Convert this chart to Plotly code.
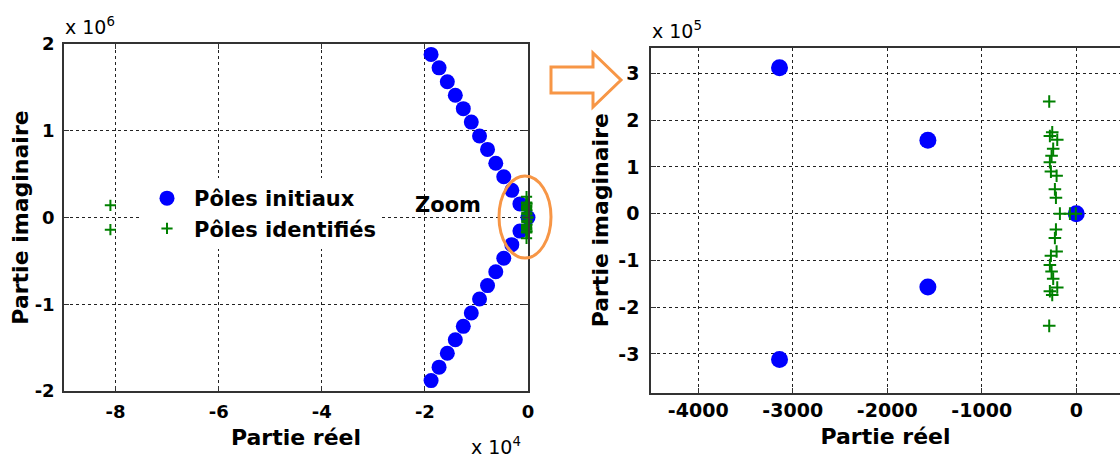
import plotly.graph_objects as go

W, H = 1120, 458

# ---------------- data ----------------
# Left panel: initial poles (blue) - origin, upper half, lower half
init_re_left = [0,
                -1570, -3140, -4700, -6250, -7850, -9400, -11000, -12550, -14100, -15650, -17250, -18800,
                -1570, -3140, -4700, -6250, -7850, -9400, -11000, -12550, -14100, -15650, -17250, -18800]
init_im_left = [0,
                157000, 313000, 470000, 625000, 785000, 940000, 1100000, 1255000, 1410000, 1565000, 1725000, 1880000,
                -157000, -313000, -470000, -625000, -785000, -940000, -1100000, -1255000, -1410000, -1565000, -1725000, -1880000]

# Identified poles (green)
ident_re = [-286, -254, -279, -201, -244, -261, -279, -268, -208, -226, -215,
            -173, -67, -5,
            -215, -226, -208, -268, -279, -261, -244, -201, -279, -254, -286]
ident_im = [240000, 174000, 166000, 158000, 139000, 124000, 110000, 90000, 81000, 52000, 34000,
            0, 0, 0,
            -34000, -52000, -81000, -90000, -110000, -124000, -139000, -158000, -166000, -174000, -240000]
far_re = [-81000, -81000]
far_im = [140000, -140000]

# Right (zoom) panel: initial poles
init_re_right = [-3140, -1570, 0, -1570, -3140]
init_im_right = [312000, 157000, 0, -157000, -312000]

# tick definitions
left_xtick_vals = [-80000, -60000, -40000, -20000, 0]
left_xtick_text = ["-8", "-6", "-4", "-2", "0"]
left_ytick_vals = [-2000000, -1000000, 0, 1000000, 2000000]
left_ytick_text = ["-2", "-1", "0", "1", "2"]
right_xtick_vals = [-4000, -3000, -2000, -1000, 0]
right_xtick_text = ["-4000", "-3000", "-2000", "-1000", "0"]
right_ytick_vals = [-300000, -200000, -100000, 0, 100000, 200000, 300000]
right_ytick_text = ["-3", "-2", "-1", "0", "1", "2", "3"]

names = ["Pôles initiaux", "Pôles identifiés"]

# ---------------- styling ----------------
BLUE = "#0000FF"
GREEN = "#008000"
ORANGE = "#F79646"
FONT = "DejaVu Sans"

def px(x):
    return x / W

def py(y):
    return 1 - y / H

fig = go.Figure()

fig.add_trace(go.Scatter(x=init_re_left, y=init_im_left, mode="markers", name=names[0],
                         marker=dict(symbol="circle", size=15, color=BLUE, line=dict(width=0)),
                         cliponaxis=False, xaxis="x", yaxis="y"))
fig.add_trace(go.Scatter(x=ident_re + far_re, y=ident_im + far_im, mode="markers", name=names[1],
                         marker=dict(symbol="cross-thin", size=8, color=GREEN, line=dict(width=2, color=GREEN)),
                         cliponaxis=False, xaxis="x", yaxis="y"))
fig.add_trace(go.Scatter(x=init_re_right, y=init_im_right, mode="markers", showlegend=False,
                         marker=dict(symbol="circle", size=17, color=BLUE, line=dict(width=0)),
                         cliponaxis=False, xaxis="x2", yaxis="y2"))
fig.add_trace(go.Scatter(x=ident_re, y=ident_im, mode="markers", showlegend=False,
                         marker=dict(symbol="cross-thin", size=9, color=GREEN, line=dict(width=2, color=GREEN)),
                         cliponaxis=False, xaxis="x2", yaxis="y2"))

axis_common = dict(showgrid=True, gridcolor="#222222", griddash="3px,3px", gridwidth=1,
                   zeroline=False, showline=True, linecolor="#333333", linewidth=1.5,
                   ticks="inside", ticklen=5, tickcolor="#333333",
                   tickfont=dict(family=FONT, size=18, color="black", weight="bold"),
                   automargin=False)

title_font = dict(family=FONT, size=22, color="black", weight="bold")

fig.update_layout(
    width=W, height=H,
    margin=dict(l=0, r=0, t=0, b=0),
    paper_bgcolor="white", plot_bgcolor="white",
    xaxis=dict(axis_common, domain=[px(64), px(528)], range=[-90000, 0], anchor="y",
               tickvals=left_xtick_vals, ticktext=left_xtick_text, mirror="ticks",
               ticklabelstandoff=4,
               title=dict(text="Partie réel", font=title_font, standoff=8)),
    yaxis=dict(axis_common, domain=[py(391), py(44)], range=[-2000000, 2000000], anchor="x",
               tickvals=left_ytick_vals, ticktext=left_ytick_text, mirror="ticks",
               ticklabelstandoff=4,
               title=dict(text="Partie imaginaire", font=title_font, standoff=0)),
    xaxis2=dict(axis_common, domain=[px(651), 1.0], range=[-4500, 463], anchor="y2",
                tickvals=right_xtick_vals, ticktext=right_xtick_text, mirror=True,
                ticklabelstandoff=0,
                tickfont=dict(family=FONT, size=19, color="black", weight="bold"),
                title=dict(text="Partie réel", font=title_font, standoff=8)),
    yaxis2=dict(axis_common, domain=[py(392.7), py(47.7)], range=[-383000, 355000], anchor="x2",
                tickvals=right_ytick_vals, ticktext=right_ytick_text, mirror=False,
                ticklabelstandoff=6,
                tickfont=dict(family=FONT, size=19, color="black", weight="bold"),
                title=dict(text="Partie imaginaire", font=title_font, standoff=4)),
    legend=dict(x=px(140), y=py(178), xanchor="left", yanchor="top",
                bgcolor="white", borderwidth=0, itemwidth=44,
                font=dict(family=FONT, size=21, color="black", weight="bold"),
                tracegroupgap=0),
    showlegend=True,
)

# exponent labels
exp_font = dict(family=FONT, size=19, color="black")
fig.add_annotation(text="x 10<sup>6</sup>", xref="paper", yref="paper", x=px(63), y=py(40),
                   xanchor="left", yanchor="bottom", showarrow=False, font=exp_font)
fig.add_annotation(text="x 10<sup>5</sup>", xref="paper", yref="paper", x=px(650), y=py(44),
                   xanchor="left", yanchor="bottom", showarrow=False, font=exp_font)
fig.add_annotation(text="x 10<sup>4</sup>", xref="paper", yref="paper", x=px(469), y=py(460),
                   xanchor="left", yanchor="bottom", showarrow=False, font=exp_font)

# Zoom label
fig.add_annotation(text="Zoom", xref="paper", yref="paper", x=px(483), y=py(219),
                   xanchor="right", yanchor="bottom", showarrow=False,
                   font=dict(family=FONT, size=21, color="black", weight="bold"))

# orange ellipse around the cluster near origin
fig.add_shape(type="circle", xref="paper", yref="paper",
              x0=px(499), x1=px(551), y0=py(258), y1=py(176),
              line=dict(color=ORANGE, width=3), layer="above")

# hollow orange arrow
pts = [(551, 67), (593, 67), (593, 53), (621, 80), (593, 107), (593, 93), (551, 93)]
path = "M " + " L ".join(f"{px(a):.5f},{py(b):.5f}" for a, b in pts) + " Z"
fig.add_shape(type="path", xref="paper", yref="paper", path=path,
              line=dict(color=ORANGE, width=3), fillcolor="white", layer="above")

fig.write_html("out.html", config={"displayModeBar": False},
               post_script="document.body.style.margin='0px';document.body.style.overflow='hidden';")
